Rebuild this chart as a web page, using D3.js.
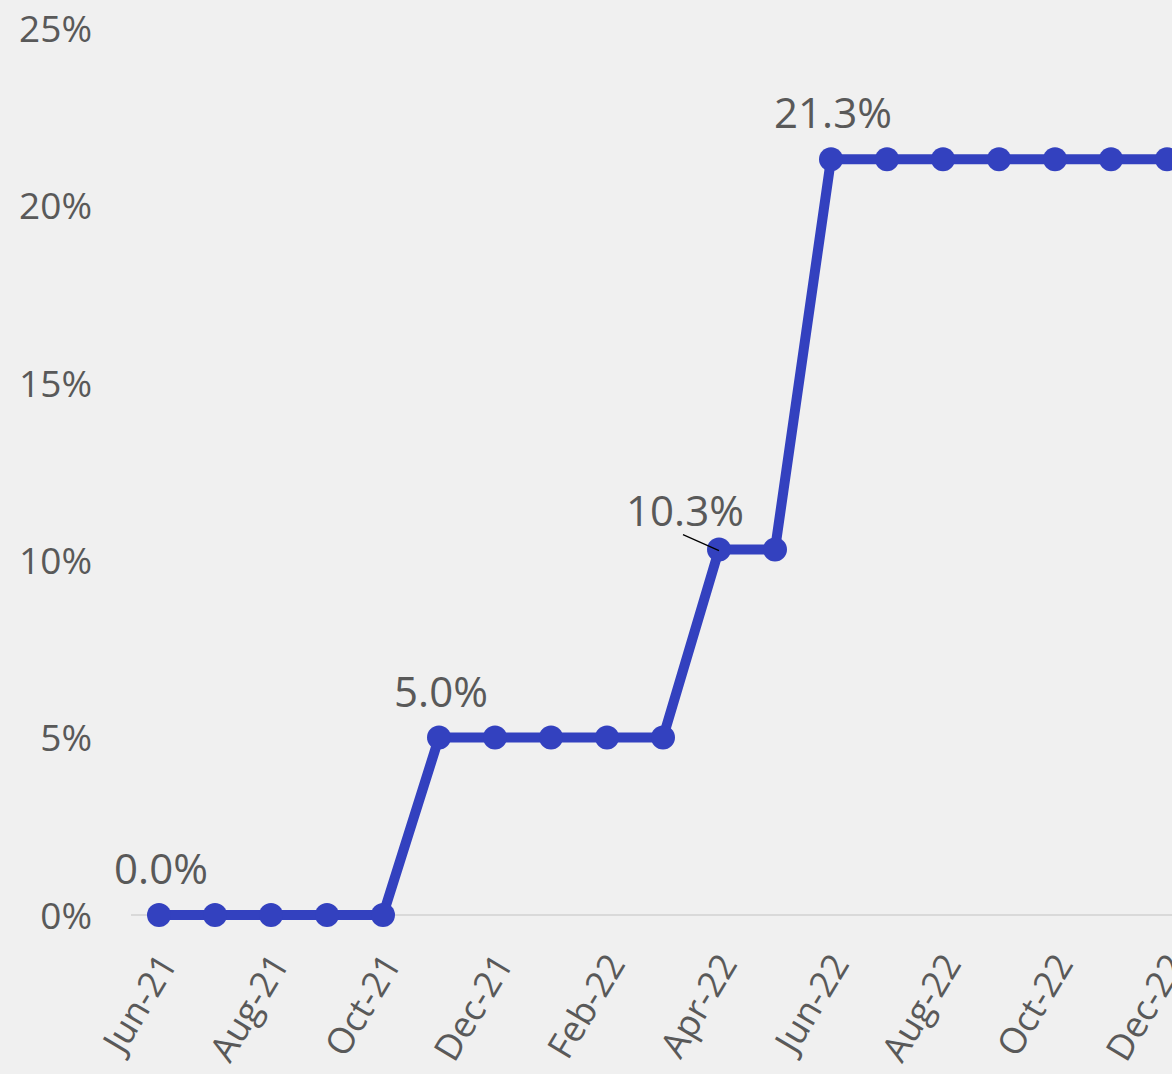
<!DOCTYPE html>
<html><head><meta charset="utf-8">
<script src="https://cdn.jsdelivr.net/npm/d3@7"></script>
<style>
html,body{margin:0;padding:0;background:#F0F0F0;overflow:hidden;}
svg{display:block;}
text{font-family:"Open Sans",sans-serif;fill:#595959;}
</style></head><body>
<script>
const months = ["Jun-21","Jul-21","Aug-21","Sep-21","Oct-21","Nov-21","Dec-21","Jan-22","Feb-22","Mar-22","Apr-22","May-22","Jun-22","Jul-22","Aug-22","Sep-22","Oct-22","Nov-22","Dec-22"];
const values = [0,0,0,0,0,5.0,5.0,5.0,5.0,5.0,10.3,10.3,21.3,21.3,21.3,21.3,21.3,21.3,21.3];
const yTicks = [0,5,10,15,20,25];
const tickLabelMonths = ["Jun-21","Aug-21","Oct-21","Dec-21","Feb-22","Apr-22","Jun-22","Aug-22","Oct-22","Dec-22"];
const dataLabels = [
  {month:"Jun-21", text:"0.0%"},
  {month:"Nov-21", text:"5.0%"},
  {month:"Apr-22", text:"10.3%", leader:true},
  {month:"Jun-22", text:"21.3%"}
];

const W=1172,H=1074;
const svg=d3.select("body").append("svg").attr("width",W).attr("height",H);
svg.append("rect").attr("width",W).attr("height",H).attr("fill","#F0F0F0");

const x=d3.scaleBand().domain(months).range([131,131+56*months.length]);
const y=d3.scaleLinear().domain([0,25]).range([915,28]);
const cx=m=>x(m)+x.bandwidth()/2;

// y axis labels
const yAxis=d3.axisLeft(y).tickValues(yTicks).tickFormat(d=>d+"%").tickSize(0).tickPadding(0);
const ga=svg.append("g").attr("transform","translate(92,0)").call(yAxis);
ga.select(".domain").remove();
ga.selectAll("text").attr("font-size",37).attr("fill","#595959").attr("font-family","Open Sans").attr("dy","0.36em");

// x axis line
svg.append("line").attr("x1",131).attr("x2",W).attr("y1",y(0)).attr("y2",y(0))
  .attr("stroke","#D9D9D9").attr("stroke-width",2);

// x tick labels
const xAxis=d3.axisBottom(x).tickValues(tickLabelMonths).tickSize(0).tickPadding(0);
const gx=svg.append("g").attr("transform",`translate(0,${y(0)})`).call(xAxis);
gx.select(".domain").remove();
gx.selectAll("text")
  .attr("font-size",36).attr("font-family","Open Sans").attr("fill","#595959")
  .attr("text-anchor","end").attr("dy",null).attr("y",0)
  .attr("transform","translate(11,44) rotate(-59)")
  .attr("dominant-baseline","middle");

// line
const line=d3.line().x((d,i)=>cx(months[i])).y(d=>y(d));
svg.append("path").datum(values).attr("d",line).attr("fill","none")
  .attr("stroke","#3341BF").attr("stroke-width",10).attr("stroke-linejoin","round");
svg.selectAll("circle.pt").data(values).enter().append("circle")
  .attr("cx",(d,i)=>cx(months[i])).attr("cy",d=>y(d)).attr("r",12).attr("fill","#3341BF");

// data labels
dataLabels.forEach(l=>{
  const i=months.indexOf(l.month);
  const px=cx(l.month), py=y(values[i]);
  if(l.leader){
    svg.append("line").attr("x1",px-36).attr("y1",py-15).attr("x2",px).attr("y2",py+1)
      .attr("stroke","#000").attr("stroke-width",1.3);
    svg.append("text").attr("x",px-34).attr("y",py-24).attr("text-anchor","middle")
      .attr("font-size",42).text(l.text);
  } else {
    svg.append("text").attr("x",px+2).attr("y",py-31).attr("text-anchor","middle")
      .attr("font-size",42).text(l.text);
  }
});
</script>
</body></html>
